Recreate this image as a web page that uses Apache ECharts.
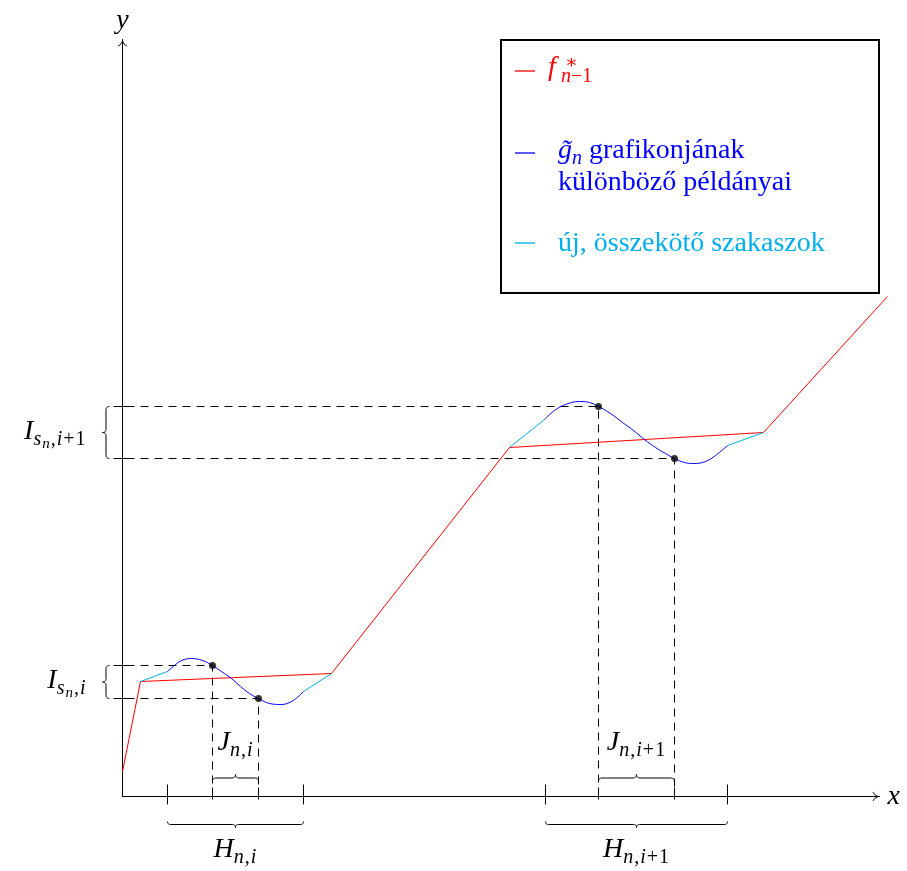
<!DOCTYPE html>
<html><head><meta charset="utf-8">
<script src="https://cdn.jsdelivr.net/npm/echarts@6/dist/echarts.min.js"></script>
<style>html,body{margin:0;padding:0;background:#fff}#c{width:907px;height:871px}</style>
</head><body><div id="c"></div>
<script>
// ---------- data (axis units) ----------
const fStar = [[0,0.25],[0.18,1.15],[2.09,1.23],[3.87,3.49],[6.41,3.64],[7.65,5.00]];
const gTildeCopy1 = [[0.45,1.25],[0.52,1.31],[0.59,1.36],[0.69,1.38],[0.80,1.36],[0.90,1.31],[0.99,1.25],[1.09,1.18],[1.18,1.10],[1.27,1.03],[1.36,0.98],[1.47,0.93],[1.59,0.92],[1.69,0.95],[1.77,1.01],[1.81,1.05]];
const gTildeCopy2 = [[4.22,3.77],[4.32,3.86],[4.43,3.92],[4.57,3.95],[4.67,3.94],[4.76,3.90],[4.88,3.83],[5.00,3.74],[5.11,3.66],[5.22,3.57],[5.33,3.49],[5.43,3.43],[5.52,3.38],[5.62,3.34],[5.72,3.33],[5.83,3.35],[5.93,3.41],[6.05,3.51]];
const connectors = [[[0.18,1.15],[0.45,1.25]],[[1.81,1.05],[2.09,1.23]],[[3.87,3.49],[4.22,3.77]],[[6.05,3.51],[6.41,3.64]]];
const markedPoints = [[0.90,1.31],[1.36,0.98],[4.76,3.90],[5.52,3.38]];
const hIntervals = [[0.45,1.81],[4.23,6.05]];
const jIntervals = [[0.90,1.36],[4.76,5.52]];
const iIntervals = [[0.98,1.31],[3.38,3.90]];
const dashStartX = -0.10;
// labels: [main, subscript, sub-subscript, rest of subscript]
const hLabels = [['H','n,i'],['H','n,i+1']];
const jLabels = [['J','n,i'],['J','n,i+1']];
const iLabels = [['I','s','n',',i'],['I','s','n',',i+1']];
const legendRed = ['f','∗','n','−1'];
const legendBlue = ['g̃','n',' grafikonjának','különböző példányai'];
const legendCyan = 'új, összekötő szakaszok';
const axisNames = ['x','y'];

const RED = '#ff0000', BLUE = '#0000ff', CYAN = '#00aeef';
const SERIF = '"Liberation Serif","DejaVu Serif",serif';

const rich = {
  m:  {fontFamily:SERIF, fontStyle:'italic', fontSize:28, lineHeight:28, verticalAlign:'top'},
  si: {fontFamily:SERIF, fontStyle:'italic', fontSize:20, lineHeight:20, verticalAlign:'top', padding:[12,1,0,0]},
  su: {fontFamily:SERIF, fontSize:20, lineHeight:20, verticalAlign:'top', padding:[12,1,0,0]},
  ss: {fontFamily:SERIF, fontStyle:'italic', fontSize:15, lineHeight:15, verticalAlign:'top', padding:[19,1,0,0]}
};
function subTokens(s){
  let out='';
  for (const ch of s) out += /[a-z]/i.test(ch) ? '{si|'+ch+'}' : '{su|'+ch+'}';
  return out;
}
function mathLabel(l){
  let t = '{m|'+l[0]+'}' + subTokens(l[1]);
  if (l[2]) t += '{ss|'+l[2]+'}';
  if (l[3]) t += subTokens(l[3]);
  return t;
}

function bracePoints(p1, p2, nx, ny, amp){
  const dx=p2[0]-p1[0], dy=p2[1]-p1[1], L=Math.hypot(dx,dy), ux=dx/L, uy=dy/L, h=amp/2, m=L/2;
  const P=(s,t)=>[p1[0]+ux*s+nx*t, p1[1]+uy*s+ny*t];
  const pts=[];
  const quad=(a,b,c)=>{for(let k=0;k<=10;k++){const t=k/10,u=1-t;pts.push([u*u*a[0]+2*t*u*b[0]+t*t*c[0],u*u*a[1]+2*t*u*b[1]+t*t*c[1]]);}};
  quad(P(0,0),P(0,h),P(h,h));
  quad(P(m-h,h),P(m,h),P(m,amp));
  quad(P(m,amp),P(m,h),P(m+h,h));
  quad(P(L-h,h),P(L,h),P(L,0));
  return pts;
}

// dashed guides from the marked points
const dashData = [];
markedPoints.forEach(p=>{ dashData.push([dashStartX,p[1]],[p[0],p[1]],[p[0],0],null); });
const connData = [];
connectors.forEach(s=>{ connData.push(s[0], s[1], null); });

const chart = echarts.init(document.getElementById('c'), null, {renderer:'canvas'});
const arrowPath = 'path://M5,0 C5.6,2.8 7.4,5.2 10,6.6 L9.6,7.3 C7.3,6.1 5.8,4.4 5,2.4 C4.2,4.4 2.7,6.1 0.4,7.3 L0,6.6 C2.6,5.2 4.4,2.8 5,0 Z';
const axisCommon = {
  type:'value', min:0, max:7.57,
  axisLine:{show:true, onZero:false, symbol:['none',arrowPath], symbolSize:[10,7], symbolOffset:[0,-3.5], lineStyle:{color:'#000', width:1}},
  axisTick:{show:false}, axisLabel:{show:false}, splitLine:{show:false},
  nameTextStyle:{fontFamily:SERIF, fontStyle:'italic', fontSize:28, color:'#000'}
};

chart.setOption({
  animation:false,
  backgroundColor:'#fff',
  grid:{left:122.5, right:27.5, top:39.5, bottom:74.5},
  xAxis: Object.assign({}, axisCommon, {name:axisNames[0], nameLocation:'end', nameGap:8}),
  yAxis: Object.assign({}, axisCommon, {name:axisNames[1], nameLocation:'end', nameGap:5}),
  series:[
    {type:'line', data:dashData, symbol:'none', clip:false, connectNulls:false, z:1,
     lineStyle:{color:'#000', width:1, type:[8,6]}},
    {type:'custom', clip:false, z:2,
     data: iIntervals.flatMap(d=>[[0,d[0]],[0,d[1]]]),
     renderItem:(params, api)=>{
       const p = api.coord([api.value(0), api.value(1)]);
       return {type:'line', shape:{x1:p[0]-9,y1:p[1],x2:p[0]+9,y2:p[1]}, style:{stroke:'#000', lineWidth:1}};
     }},
    {type:'custom', clip:false, z:2,
     data: hIntervals.flatMap(d=>[[d[0],0,1],[d[1],0,1]]).concat(jIntervals.flatMap(d=>[[d[0],0,0],[d[1],0,0]])),
     renderItem:(params, api)=>{
       const p = api.coord([api.value(0), 0]);
       const big = api.value(2) === 1;
       return {type:'line', shape:{x1:p[0],y1:p[1]-(big?12:9),x2:p[0],y2:p[1]+(big?8:3)}, style:{stroke:'#000', lineWidth:1}};
     }},
    // f*_{n-1}: drawn segment by segment through the axes' scales (may leave the grid on the right)
    {type:'custom', clip:false, z:3, data:fStar,
     renderItem:(params, api)=>{
       const i = params.dataIndex;
       if (i >= fStar.length-1) return null;
       const a = api.coord(fStar[i]), b = api.coord(fStar[i+1]);
       return {type:'line', shape:{x1:a[0],y1:a[1],x2:b[0],y2:b[1]}, style:{stroke:RED, lineWidth:1}};
     }},
    {type:'line', data:connData, symbol:'none', clip:false, connectNulls:false, z:3, lineStyle:{color:CYAN, width:1}},
    {type:'line', data:gTildeCopy1, symbol:'none', smooth:0.4, clip:false, z:4, lineStyle:{color:BLUE, width:1}},
    {type:'line', data:gTildeCopy2, symbol:'none', smooth:0.4, clip:false, z:4, lineStyle:{color:BLUE, width:1}},
    {type:'scatter', data:markedPoints, symbolSize:7, z:6, itemStyle:{color:'#000'}},
    // H braces (below axis) with labels
    {type:'custom', clip:false, z:5,
     data: hIntervals.map((d,i)=>[d[0],d[1],i]),
     renderItem:(params, api)=>{
       const a=api.coord([api.value(0),0]), b=api.coord([api.value(1),0]);
       const y=a[1]+25;
       return {type:'group', children:[
         {type:'polyline', shape:{points:bracePoints([a[0],y],[b[0],y],0,1,6)}, style:{stroke:'#000', fill:null, lineWidth:1}},
         {type:'text', style:{text:mathLabel(hLabels[api.value(2)]), rich:rich, x:(a[0]+b[0])/2, y:a[1]+39, align:'center', verticalAlign:'top', fill:'#000'}}
       ]};
     }},
    // J braces (above axis) with labels
    {type:'custom', clip:false, z:5,
     data: jIntervals.map((d,i)=>[d[0],d[1],i]),
     renderItem:(params, api)=>{
       const a=api.coord([api.value(0),0]), b=api.coord([api.value(1),0]);
       const y=a[1]-15;
       return {type:'group', children:[
         {type:'polyline', shape:{points:bracePoints([a[0],y],[b[0],y],0,-1,7)}, style:{stroke:'#000', fill:null, lineWidth:1}},
         {type:'text', style:{text:mathLabel(jLabels[api.value(2)]), rich:rich, x:(a[0]+b[0])/2, y:a[1]-68, align:'center', verticalAlign:'top', fill:'#000'}}
       ]};
     }},
    // I braces (left of y axis) with labels
    {type:'custom', clip:false, z:5,
     data: iIntervals.map((d,i)=>[0,d[0],d[1],i]),
     renderItem:(params, api)=>{
       const a=api.coord([0,api.value(1)]), b=api.coord([0,api.value(2)]);
       const x=a[0]-13;
       const my=(a[1]+b[1])/2;
       return {type:'group', children:[
         {type:'polyline', shape:{points:bracePoints([x,a[1]],[x,b[1]],-1,0,7)}, style:{stroke:'#000', fill:null, lineWidth:1}},
         {type:'text', style:{text:mathLabel(iLabels[api.value(3)]), rich:rich, x:a[0]-36, y:my-15, align:'right', verticalAlign:'top', fill:'#000'}}
       ]};
     }}
  ],
  graphic:[
    {type:'rect', z:20, shape:{x:501,y:40,width:378,height:253}, style:{fill:'#fff', stroke:'#000', lineWidth:2}},
    {type:'line', z:21, shape:{x1:515,y1:71,x2:535,y2:71}, style:{stroke:RED, lineWidth:1.3}},
    {type:'line', z:21, shape:{x1:515,y1:153,x2:535,y2:153}, style:{stroke:BLUE, lineWidth:1.3}},
    {type:'line', z:21, shape:{x1:515,y1:243,x2:535,y2:243}, style:{stroke:CYAN, lineWidth:1.3}},
    {type:'text', z:21, style:{text:legendRed[0], x:548, y:68, font:'italic 28px '+SERIF, fill:RED, verticalAlign:'middle'}},
    {type:'text', z:21, style:{text:legendRed[1], x:565, y:63, font:'19px '+SERIF, fill:RED, verticalAlign:'middle'}},
    {type:'text', z:21, style:{text:'{a|'+legendRed[2]+'}{b|'+legendRed[3]+'}', x:561, y:77, fill:RED, verticalAlign:'middle',
      rich:{a:{fontFamily:SERIF, fontStyle:'italic', fontSize:20, color:RED}, b:{fontFamily:SERIF, fontSize:20, color:RED}}}},
    {type:'text', z:21, style:{text:'{m|'+legendBlue[0]+'}{s|'+legendBlue[1]+'}{r|'+legendBlue[2]+'}', x:558, y:137, fill:BLUE, verticalAlign:'top',
      rich:{m:{fontFamily:SERIF, fontStyle:'italic', fontSize:28, lineHeight:28, verticalAlign:'top', color:BLUE},
            s:{fontFamily:SERIF, fontStyle:'italic', fontSize:20, lineHeight:20, verticalAlign:'top', padding:[12,0,0,0], color:BLUE},
            r:{fontFamily:SERIF, fontSize:28, lineHeight:28, verticalAlign:'top', color:BLUE}}}},
    {type:'text', z:21, style:{text:legendBlue[3], x:558, y:183, font:'28px '+SERIF, fill:BLUE, verticalAlign:'middle'}},
    {type:'text', z:21, style:{text:legendCyan, x:558, y:244, font:'28px '+SERIF, fill:CYAN, verticalAlign:'middle'}}
  ]
});
</script></body></html>
